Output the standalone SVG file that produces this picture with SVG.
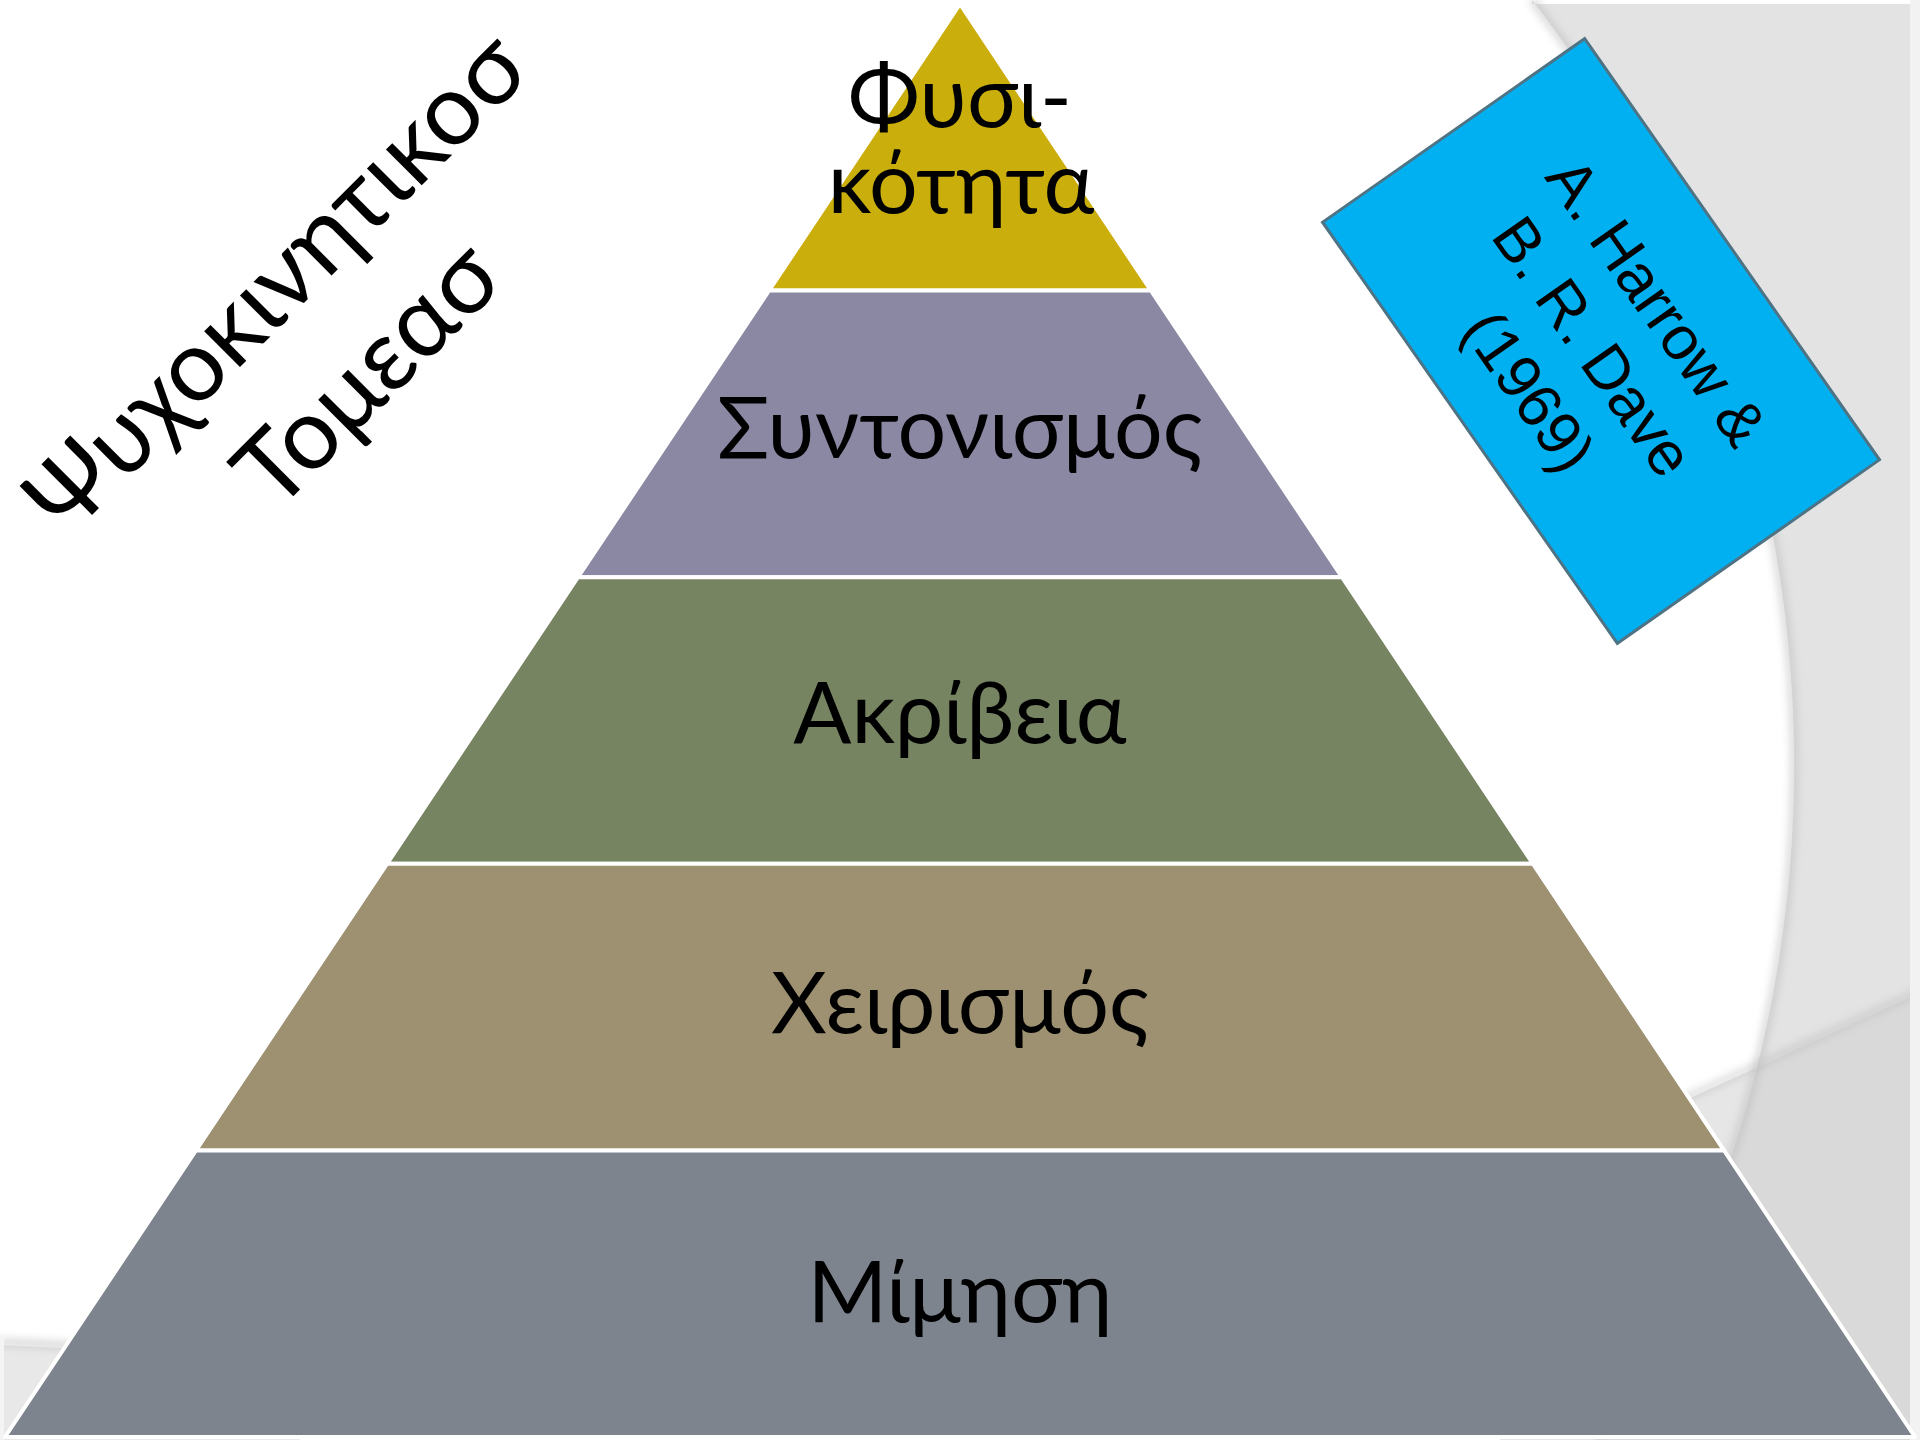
<svg xmlns="http://www.w3.org/2000/svg" width="1920" height="1440" viewBox="0 0 1920 1440">
<style>
.band{stroke:#FFFFFF;stroke-width:4;stroke-linejoin:round}
.lbl{font-family:Lato,"Open Sans","Noto Sans",sans-serif;font-size:86px;fill:#000000;text-anchor:middle}
.side{font-family:Lato,"Open Sans","Noto Sans",sans-serif;font-size:100px;fill:#000000;text-anchor:middle}
.boxt{font-family:"Liberation Sans",Arial,sans-serif;font-size:62px;fill:#000000;text-anchor:middle}
.shadow{fill:none;stroke:#B8B8B8;filter:url(#blur)}
</style>
<defs>
<filter id="blur" filterUnits="userSpaceOnUse" x="0" y="0" width="1920" height="1440"><feGaussianBlur stdDeviation="4"/></filter>
<clipPath id="regA"><path d="M1532,0 A1248,1248 0 0,1 1596,1440 L1920,1440 L1920,0 Z"/></clipPath>
</defs>
<rect width="1920" height="1440" fill="#FFFFFF"/>
<g id="background">
<path d="M1532,0 A1248,1248 0 0,1 1596,1440 L1910,1440 L1910,4 L1532,4 Z" fill="#E3E3E3"/>
<polygon points="1500,1185 1920,993 1920,1440 1500,1440" fill="#E6E6E6"/>
<polygon points="1500,1185 1920,993 1920,1440 1500,1440" fill="#D9D9D9" clip-path="url(#regA)"/>
<path d="M1532,0 A1248,1248 0 0,1 1596,1440" class="shadow" stroke-width="6" opacity="0.7"/>
<line x1="1500" y1="1183" x2="1920" y2="991" class="shadow" stroke-width="6" opacity="0.6"/>
<rect x="1910" y="0" width="10" height="1440" fill="#F2F2F2"/>
<polygon points="0,1345 300,1360 300,1440 0,1440" fill="#E8E8E8"/>
<line x1="0" y1="1342" x2="300" y2="1357" class="shadow" stroke-width="6" opacity="0.7"/>
<rect x="0" y="1335" width="4" height="105" fill="#F4F4F4"/>
</g>
<g id="pyramid">
<g id="level1"><polygon class="band" points="960,4 1151,290.6 769,290.6" fill="#CAAE0C"/>
<text class="lbl" x="960" y="127">Φυσι-</text><text class="lbl" x="961" y="213">κότητα</text></g>
<g id="level2"><polygon class="band" points="769,290.6 1151,290.6 1342,577.2 578,577.2" fill="#8B88A4"/>
<text class="lbl" x="960" y="458">Συντονισμός</text></g>
<g id="level3"><polygon class="band" points="578,577.2 1342,577.2 1533,863.8 387,863.8" fill="#778462"/>
<text class="lbl" x="960" y="743">Ακρίβεια</text></g>
<g id="level4"><polygon class="band" points="387,863.8 1533,863.8 1724,1150.4 196,1150.4" fill="#9E9171"/>
<text class="lbl" x="960" y="1033">Χειρισμός</text></g>
<g id="level5"><polygon class="band" points="196,1150.4 1724,1150.4 1915,1437 5,1437" fill="#7E848E"/>
<text class="lbl" x="960" y="1322">Μίμηση</text></g>
</g>
<g id="title" transform="translate(300,307) rotate(-45)">
<text class="side" x="0" y="0">Ψυχοκινητικοσ</text>
<text class="side" x="0" y="129">Τομεασ</text>
</g>
<g id="authors" transform="translate(1601,341) rotate(55)">
<rect x="-257" y="-160" width="514" height="320" fill="#00B0F0" stroke="#4E7384" stroke-width="3"/>
<text class="boxt" x="0" y="-47">A. Harrow &amp;</text>
<text class="boxt" x="0" y="31">B. R. Dave</text>
<text class="boxt" x="0" y="109">(1969)</text>
</g>
<g id="connectors"/>
</svg>
